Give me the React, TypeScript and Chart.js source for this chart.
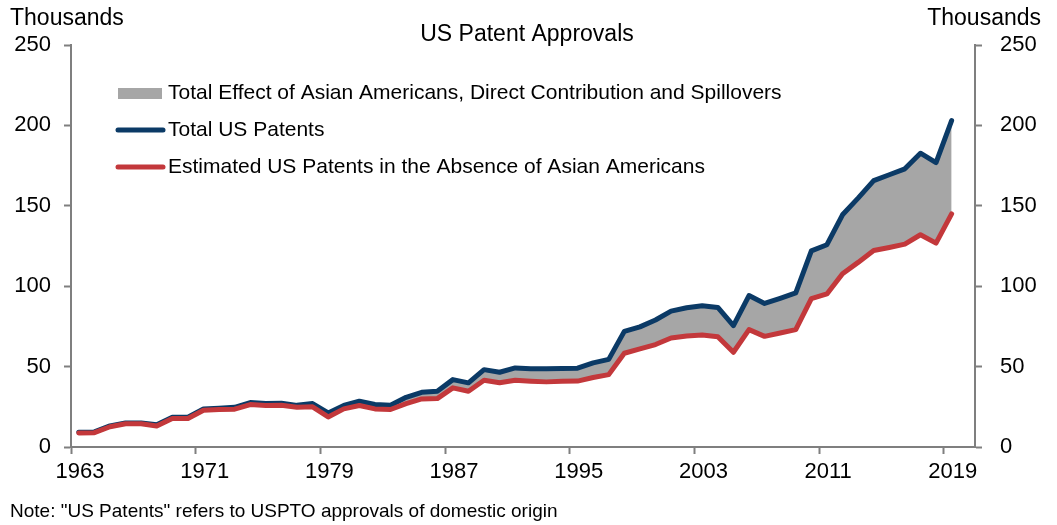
import React, { useEffect, useRef } from "react";
import { Chart, registerables } from "chart.js";

Chart.register(...registerables);

const years = [
  1963, 1964, 1965, 1966, 1967, 1968, 1969, 1970, 1971, 1972,
  1973, 1974, 1975, 1976, 1977, 1978, 1979, 1980, 1981, 1982,
  1983, 1984, 1985, 1986, 1987, 1988, 1989, 1990, 1991, 1992,
  1993, 1994, 1995, 1996, 1997, 1998, 1999, 2000, 2001, 2002,
  2003, 2004, 2005, 2006, 2007, 2008, 2009, 2010, 2011, 2012,
  2013, 2014, 2015, 2016, 2017, 2018, 2019,
];

const totalPatents = [
  9.2, 9.4, 13.1, 15.0, 15.0, 13.9, 18.5, 18.5, 23.7, 24.1,
  24.7, 27.6, 27.0, 27.2, 25.9, 27.0, 21.2, 25.8, 28.5, 26.4,
  26.0, 30.9, 34.0, 34.7, 41.9, 39.9, 48.1, 46.5, 49.2, 48.6,
  48.6, 48.8, 49.0, 52.3, 54.5, 71.9, 74.7, 79.0, 84.5, 86.6,
  87.9, 86.8, 75.5, 94.2, 89.3, 92.5, 95.9, 122.0, 125.8, 144.4,
  154.8, 165.7, 169.3, 173.0, 182.7, 176.9, 203.0,
];

const estimatedPatents = [
  8.7, 8.9, 12.6, 14.5, 14.5, 13.1, 17.7, 17.7, 22.9, 23.3,
  23.5, 26.4, 25.8, 26.0, 24.7, 25.0, 18.7, 23.7, 25.8, 23.7,
  23.3, 27.0, 29.9, 30.1, 36.8, 34.7, 41.5, 39.9, 41.5, 40.9,
  40.5, 40.9, 41.0, 43.2, 45.0, 58.3, 61.0, 63.7, 67.8, 69.0,
  69.6, 68.6, 58.9, 73.0, 68.8, 70.9, 73.0, 92.3, 95.2, 107.8,
  114.8, 122.2, 124.1, 126.2, 132.0, 126.8, 145.0,
];

const xTickYears = [1963, 1971, 1979, 1987, 1995, 2003, 2011, 2019];
const yTickValues = [0, 50, 100, 150, 200, 250];

const titleText = "US Patent Approvals";
const unitText = "Thousands";
const noteText = 'Note: "US Patents" refers to USPTO approvals of domestic origin';
const legendLabels = [
  "Total Effect of Asian Americans, Direct Contribution and Spillovers",
  "Total US Patents",
  "Estimated US Patents in the Absence of Asian Americans",
];

const NAVY = "#0b3a66";
const RED = "#c3383b";
const FILL = "#a6a6a6";
const AXIS = "#7f7f7f";
const FONT = "'Liberation Sans', Arial, sans-serif";

const overlayPlugin = {
  id: "overlay",
  afterDraw(chart: any) {
    const ctx = chart.ctx;
    ctx.save();
    ctx.fillStyle = "#000";
    ctx.textBaseline = "middle";

    // unit labels
    ctx.font = `23px ${FONT}`;
    ctx.textAlign = "left";
    ctx.fillText(unitText, 10, 19);
    ctx.textAlign = "right";
    ctx.fillText(unitText, 1041, 19);

    // title
    ctx.font = `23px ${FONT}`;
    ctx.textAlign = "center";
    ctx.fillText(titleText, 527, 35);

    // legend
    ctx.font = `21px ${FONT}`;
    ctx.textAlign = "left";
    const rows = [93, 130, 167];
    ctx.fillStyle = FILL;
    ctx.fillRect(118, rows[0] - 5, 44, 11);
    ctx.lineCap = "round";
    ctx.lineWidth = 5;
    ctx.strokeStyle = NAVY;
    ctx.beginPath();
    ctx.moveTo(118, rows[1]);
    ctx.lineTo(163, rows[1]);
    ctx.stroke();
    ctx.strokeStyle = RED;
    ctx.beginPath();
    ctx.moveTo(118, rows[2]);
    ctx.lineTo(163, rows[2]);
    ctx.stroke();
    ctx.fillStyle = "#000";
    legendLabels.forEach((t, i) => ctx.fillText(t, 168, rows[i]));

    // note
    ctx.font = `19px ${FONT}`;
    ctx.fillText(noteText, 10, 512);
    ctx.restore();
  },
};

export default function App() {
  const ref = useRef<HTMLCanvasElement | null>(null);

  useEffect(() => {
    if (!ref.current) return;
    const totalPts = years.map((yr, i) => ({ x: yr + 0.5, y: totalPatents[i] }));
    const estPts = years.map((yr, i) => ({ x: yr + 0.5, y: estimatedPatents[i] }));

    const yAxisCommon = {
      type: "linear" as const,
      min: 0,
      max: 250,
      afterBuildTicks: (scale: any) => {
        scale.ticks = yTickValues.map((v) => ({ value: v }));
      },
      border: { display: true, color: AXIS, width: 2 },
      grid: {
        drawOnChartArea: false,
        drawTicks: true,
        tickLength: 7,
        tickColor: AXIS,
        tickWidth: 2,
      },
    };

    const chart = new Chart(ref.current, {
      type: "line",
      data: {
        datasets: [
          {
            label: legendLabels[2],
            data: estPts,
            borderColor: RED,
            borderWidth: 5,
            pointRadius: 0,
            tension: 0,
            borderJoinStyle: "round",
            borderCapStyle: "round",
            fill: false,
            yAxisID: "y",
          },
          {
            label: legendLabels[1],
            data: totalPts,
            borderColor: NAVY,
            backgroundColor: FILL,
            borderWidth: 5,
            pointRadius: 0,
            tension: 0,
            borderJoinStyle: "round",
            borderCapStyle: "round",
            fill: { target: 0 },
            yAxisID: "y",
          },
        ],
      },
      options: {
        responsive: false,
        maintainAspectRatio: false,
        animation: false,
        layout: { padding: { top: 45, left: 0, right: 0, bottom: 0 } },
        plugins: {
          legend: { display: false },
          title: { display: false },
          tooltip: { enabled: false },
        },
        scales: {
          x: {
            type: "linear",
            min: 1963,
            max: 2021,
            afterBuildTicks: (scale: any) => {
              scale.ticks = xTickYears.map((v) => ({ value: v }));
            },
            afterFit: (scale: any) => {
              scale.height = 78;
            },
            border: { display: true, color: AXIS, width: 2 },
            grid: {
              drawOnChartArea: false,
              drawTicks: true,
              tickLength: 7,
              tickColor: AXIS,
              tickWidth: 2,
            },
            ticks: {
              autoSkip: false,
              maxRotation: 0,
              labelOffset: 9,
              padding: 5,
              color: "#000",
              font: { family: FONT, size: 22 },
              callback: (v: any) => String(v),
            },
          },
          y: {
            ...yAxisCommon,
            position: "left",
            afterFit: (scale: any) => {
              scale.width = 71;
            },
            ticks: {
              padding: 13,
              color: "#000",
              font: { family: FONT, size: 22 },
            },
          },
          y2: {
            ...yAxisCommon,
            position: "right",
            afterFit: (scale: any) => {
              scale.width = 82;
            },
            ticks: {
              padding: 18,
              color: "#000",
              font: { family: FONT, size: 22 },
            },
          },
        },
      },
      plugins: [overlayPlugin],
    });

    return () => chart.destroy();
  }, []);

  return (
    <div style={{ position: "absolute", left: 0, top: 0, width: 1057, height: 525, background: "#fff" }}>
      <canvas ref={ref} width={1057} height={525} style={{ display: "block", width: 1057, height: 525 }} />
    </div>
  );
}
